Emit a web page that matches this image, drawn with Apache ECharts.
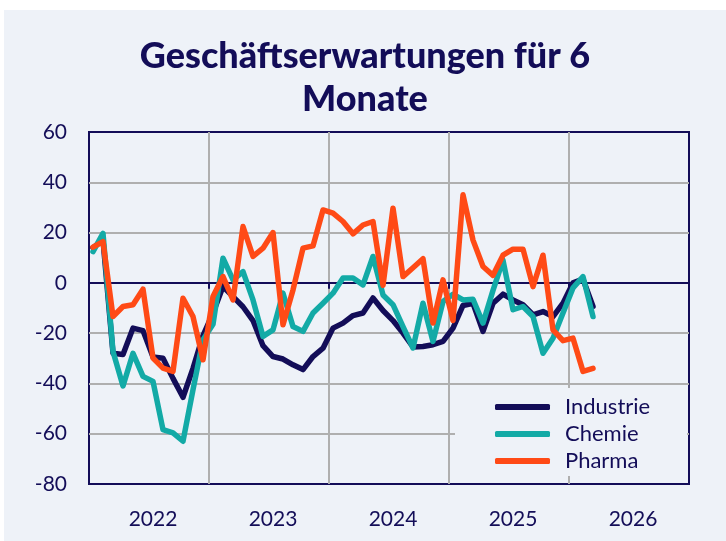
<!DOCTYPE html>
<html>
<head>
<meta charset="utf-8">
<script src="https://cdn.jsdelivr.net/npm/echarts@6/dist/echarts.min.js"></script>
<style>
  html, body { margin: 0; padding: 0; background: #ffffff; }
  #chart { position: absolute; left: 4px; top: 10px; width: 722px; height: 531px; }
</style>
</head>
<body>
<div id="chart"></div>
<script>
var myChart = echarts.init(document.getElementById("chart"));

// Monatswerte, ein Punkt je Monat
var industrie = [14, 17, -28, -28.5, -18, -19, -29.5, -30, -38, -45.5, -34, -21,
  -12, -1.5, -5.5, -9.5, -15, -25, -29.3, -30.3, -32.6, -34.5, -29.3, -26,
  -18, -16, -13, -12, -6, -11, -15, -20, -25.5, -25.3, -24.6, -23.3,
  -18, -9, -8.1, -19.3, -8.1, -4.5, -6.8, -8.7, -12.7, -11.4, -13.4, -8.1,
  0, 1.5, -9.4];
var chemie = [12.4, 19.7, -27.3, -41, -28, -37.2, -39.2, -58.4, -59.7, -63, -42.5, -22.6,
  -16.5, 9.8, 1.2, 4.5, -6.8, -21.3, -18.7, -4.1, -17.4, -19.3, -12, -8.1,
  -4.1, 1.9, 1.9, -0.8, 10.5, -4.8, -8.7, -17.4, -25.9, -8.1, -23.3, -7.4,
  -4.5, -6.8, -6.5, -16, -3, 9, -10.7, -9.4, -13.4, -28, -22, -12,
  -2, 2.5, -13.4];
var pharma = [14.2, 16.4, -13.4, -9.4, -8.7, -2.5, -29.9, -33.9, -35.2, -6.1, -13.4, -30.6,
  -5.4, 2.5, -6.8, 22.4, 10.5, 13.8, 20, -16.7, -2.8, 13.8, 14.7, 29,
  27.7, 24.4, 19.5, 23, 24.4, -1, 29.7, 2.5, 6, 9.6, -16, 1.2,
  -15, 35, 17, 6.5, 3, 11, 13.4, 13.4, -1.5, 11, -18.7, -23, -22,
  -35.2, -34];
var jahre = ["2022", "2023", "2024", "2025", "2026"];

var navy = "#130d58";
var startOffset = 0.4;

function toPoints(values) {
  var pts = [];
  for (var i = 0; i < values.length; i++) {
    pts.push([startOffset + i, values[i]]);
  }
  return pts;
}

function makeSeries(name, values, color) {
  return {
    name: name,
    type: "line",
    xAxisIndex: 0,
    data: toPoints(values),
    showSymbol: false,
    symbol: "none",
    lineStyle: { color: color, width: 5.5, cap: "round", join: "round" },
    itemStyle: { color: color },
    emphasis: { disabled: true }
  };
}

var option = {
  backgroundColor: "#eef2f8",
  animation: false,
  textStyle: { fontFamily: "Lato" },
  title: {
    text: "Geschäftserwartungen für 6\nMonate",
    left: "center",
    top: 20,
    padding: [5, 0, 5, 10],
    textStyle: { color: navy, fontSize: 36, fontWeight: 900, lineHeight: 43, fontFamily: "Lato" }
  },
  legend: {
    orient: "vertical",
    left: 451,
    top: 378,
    padding: [8, 30, 4, 40],
    backgroundColor: "#eef2f8",
    itemWidth: 55,
    itemHeight: 6,
    itemGap: 5,
    icon: "roundRect",
    data: ["Industrie", "Chemie", "Pharma"],
    textStyle: { color: navy, fontSize: 22, width: 92, padding: [0, 0, 0, 10], lineHeight: 20, fontFamily: "Lato" }
  },
  grid: {
    left: 85, top: 122, width: 600, height: 352,
    show: true, borderColor: navy, borderWidth: 2, backgroundColor: "transparent"
  },
  xAxis: [
    {
      type: "value", min: 0, max: 60, interval: 12,
      axisLine: { onZero: true, lineStyle: { color: navy, width: 2 } },
      axisTick: { show: true, length: 6, lineStyle: { color: navy, width: 2 } },
      axisLabel: { show: false },
      splitLine: { show: true, showMinLine: false, showMaxLine: false, lineStyle: { color: "#afafaf", width: 2 } }
    },
    {
      type: "value", min: 0, max: 60, interval: 6, position: "bottom",
      axisLine: { show: false, onZero: false },
      axisTick: { show: false },
      splitLine: { show: false },
      axisLabel: {
        color: navy, fontSize: 21, margin: 25, padding: [0, 0, 0, 8],
        formatter: function (v) {
          if (v % 12 === 6) return jahre[(v - 6) / 12];
          return "";
        }
      }
    }
  ],
  yAxis: {
    type: "value", min: -80, max: 60, interval: 20,
    axisLine: { show: false },
    axisTick: { show: false },
    axisLabel: { color: navy, fontSize: 21, margin: 22 },
    splitLine: { show: true, showMinLine: false, showMaxLine: false, lineStyle: { color: "#afafaf", width: 2 } }
  },
  series: [
    makeSeries("Industrie", industrie, navy),
    makeSeries("Chemie", chemie, "#13aaa6"),
    makeSeries("Pharma", pharma, "#ff4a16")
  ]
};
myChart.setOption(option);
</script>
</body>
</html>
